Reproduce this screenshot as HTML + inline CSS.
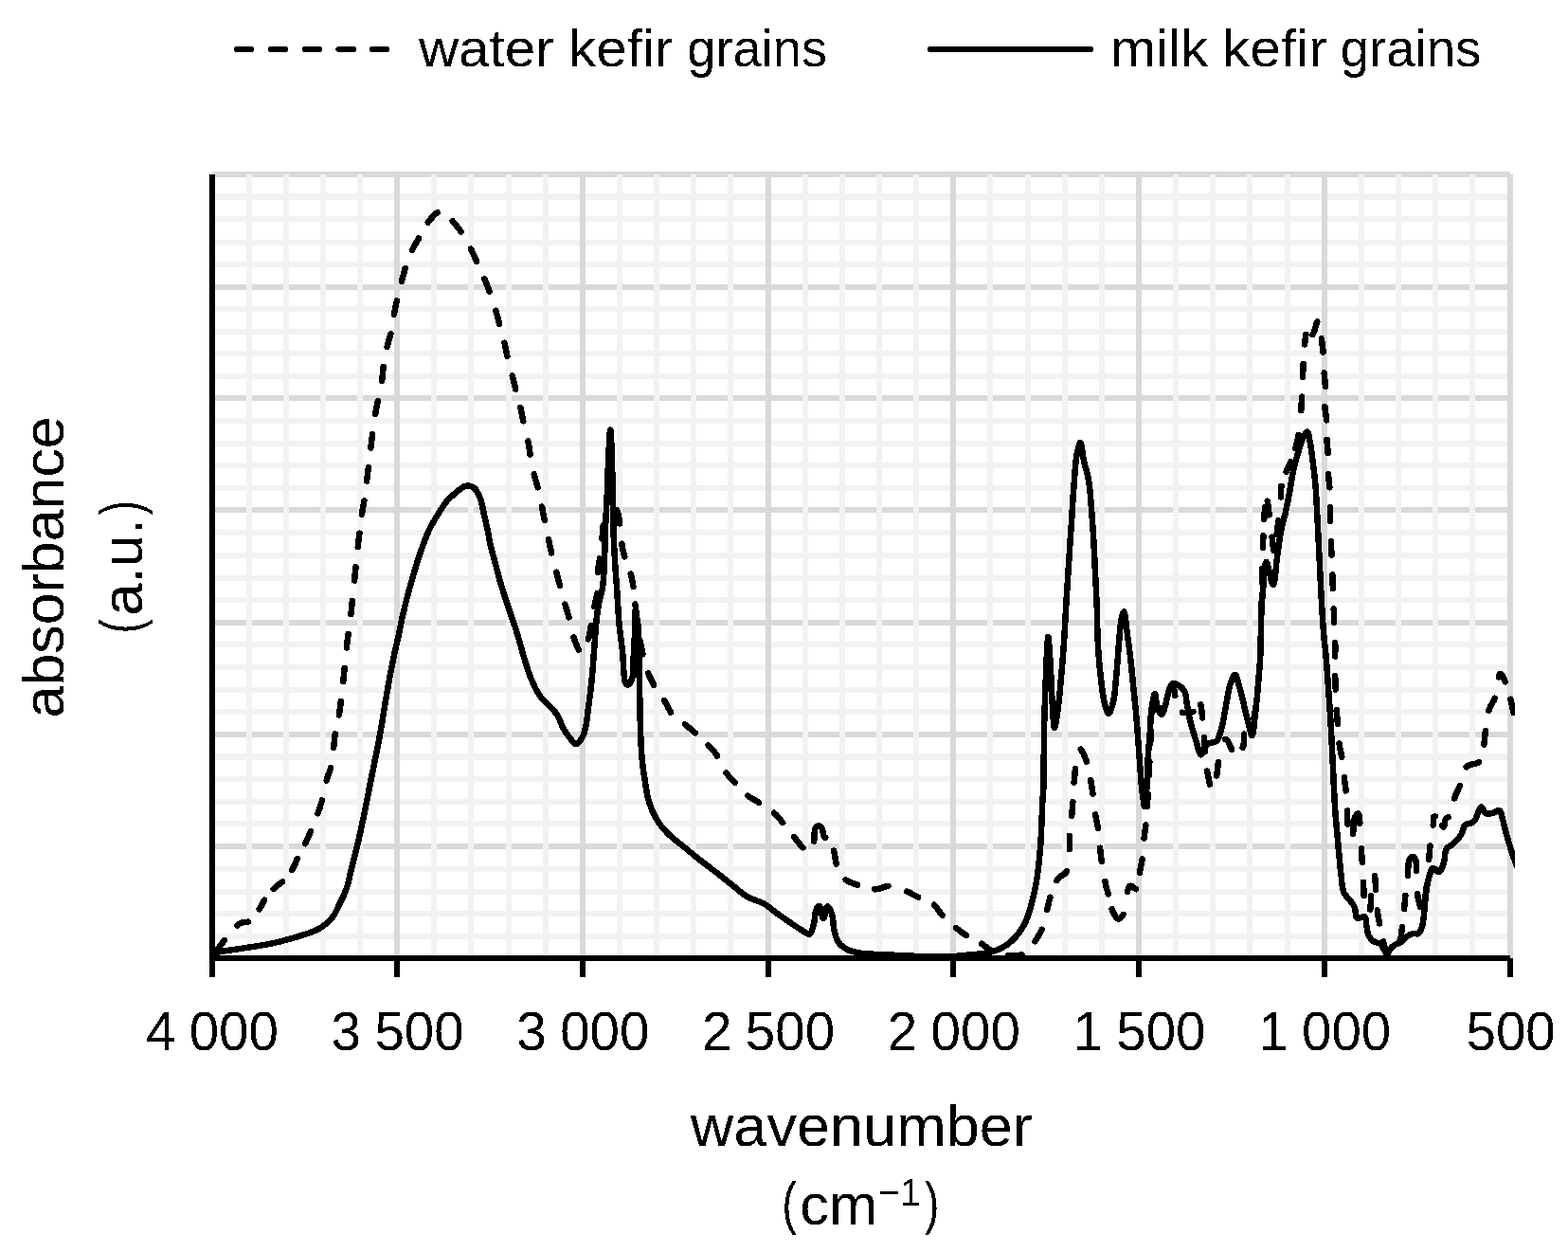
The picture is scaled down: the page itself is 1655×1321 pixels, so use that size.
<!DOCTYPE html>
<html lang="en"><head><meta charset="utf-8"><title>FTIR spectra of kefir grains</title>
<style>html,body{margin:0;padding:0;background:#fff}svg{display:block}text{font-family:"Liberation Sans",sans-serif;fill:#000}</style>
</head><body>
<svg width="1655" height="1321" viewBox="0 0 1655 1321">
<rect width="1655" height="1321" fill="#fff"/>
<defs><clipPath id="c"><rect x="0" y="0" width="1599" height="1321"/></clipPath><filter id="b" x="-5%" y="-20%" width="110%" height="140%" color-interpolation-filters="sRGB"><feComponentTransfer><feFuncA type="discrete" tableValues="0 1"/></feComponentTransfer></filter></defs>
<g stroke="none" shape-rendering="crispEdges">
<path fill="#d9d9d9" d="M224 181H1594V187H224ZM224 300H1594V306H224ZM224 417H1594V423H224ZM224 535H1594V541H224ZM224 654H1594V660H224ZM224 772H1594V778H224ZM224 890H1594V896H224ZM224 1008H1594V1014H224Z"/>
<path fill="#f2f2f2" d="M224 204H1591V211H224ZM224 228H1591V234H224ZM224 253H1591V259H224ZM224 276H1591V282H224ZM224 323H1591V329H224ZM224 347H1591V353H224ZM224 370H1591V376H224ZM224 394H1591V400H224ZM224 441H1591V447H224ZM224 465H1591V471H224ZM224 488H1591V494H224ZM224 512H1591V518H224ZM224 559H1591V565H224ZM224 583H1591V589H224ZM224 607H1591V613H224ZM224 630H1591V636H224ZM224 677H1591V683H224ZM224 701H1591V707H224ZM224 725H1591V731H224ZM224 748H1591V754H224ZM224 795H1591V802H224ZM224 819H1591V825H224ZM224 843H1591V849H224ZM224 866H1591V872H224ZM224 914H1591V920H224ZM224 938H1591V944H224ZM224 961H1591V967H224ZM224 985H1591V991H224Z"/>
<path fill="#f2f2f2" d="M260 184H266V1011H260ZM299 184H305V1011H299ZM338 184H344V1011H338ZM377 184H383V1011H377ZM455 184H461V1011H455ZM494 184H500V1011H494ZM534 184H540V1011H534ZM573 184H579V1011H573ZM651 184H657V1011H651ZM690 184H696V1011H690ZM729 184H735V1011H729ZM768 184H774V1011H768ZM847 184H853V1011H847ZM886 184H892V1011H886ZM925 184H931V1011H925ZM964 184H970V1011H964ZM1042 184H1048V1011H1042ZM1082 184H1088V1011H1082ZM1121 184H1127V1011H1121ZM1160 184H1166V1011H1160ZM1238 184H1244V1011H1238ZM1277 184H1283V1011H1277ZM1316 184H1322V1011H1316ZM1356 184H1362V1011H1356ZM1434 184H1440V1011H1434ZM1473 184H1479V1011H1473ZM1512 184H1518V1011H1512ZM1551 184H1557V1011H1551Z"/>
<path fill="#d9d9d9" d="M220 184H226V1011H220ZM416 184H422V1011H416ZM612 184H618V1011H612ZM808 184H814V1011H808ZM1003 184H1009V1011H1003ZM1199 184H1205V1011H1199ZM1395 184H1401V1011H1395ZM1591 184H1597V1011H1591Z"/>
</g>
<g fill="none" stroke="#000" stroke-width="6.5" stroke-linejoin="round" stroke-linecap="round" clip-path="url(#c)" shape-rendering="crispEdges">
<path d="M228.2 1003.7L228.7 1003.0L229.5 1001.9L230.3 1000.8L231.1 999.7L231.9 998.6L232.8 997.4L233.6 996.3L234.4 995.3L235.2 994.2L236.1 993.0L236.8 992.1M250.3 976.5L251.1 975.9L252.2 975.1L253.4 974.3L254.6 973.8L256.0 973.4L257.4 973.2L258.8 973.1L260.1 973.0L261.5 972.7L262.0 972.6M273.7 959.3L274.2 958.5L274.9 957.4L275.6 956.3L276.1 955.2L276.7 954.2L277.3 952.9L278.0 951.5L278.6 950.4L279.1 949.5M288.7 938.0L289.4 937.3L290.4 936.3L291.3 935.4L292.3 934.6L293.2 933.9L294.4 933.0L295.6 932.3L296.8 931.4L297.7 930.7L298.0 930.5M308.1 918.0L308.6 917.2L309.2 916.1L309.9 914.8L310.6 913.5L311.2 912.1L311.8 910.8L312.4 909.4L312.9 908.0L313.4 906.9L313.8 905.9M322.1 890.2L322.5 889.3L323.1 888.1L323.7 886.8L324.3 885.5L324.9 884.3L325.4 883.1L325.9 881.8L326.4 880.6L327.0 879.4L327.5 878.1L327.9 877.0M335.4 858.2L335.7 857.4L336.2 856.2L336.6 854.9L337.0 853.7L337.5 852.4L337.9 851.0L338.4 849.5L338.8 848.1L339.2 846.9L339.6 845.7L339.9 844.4M344.7 823.6L344.9 822.7L345.3 821.4L345.7 820.2L346.1 819.0L346.5 817.8L347.0 816.4L347.5 815.0L347.9 813.6L348.4 812.2L348.8 810.9L349.1 809.9M352.1 788.9L352.2 788.0L352.4 786.6L352.5 785.3L352.7 784.0L352.8 782.7L352.9 781.4L353.1 780.2L353.2 778.9L353.3 777.6L353.5 776.4L353.6 775.1L353.7 774.4M357.8 754.4L358.0 753.4L358.2 752.0L358.4 750.6L358.6 749.1L358.8 747.7L359.0 746.3L359.2 744.8L359.4 743.4L359.6 742.0L359.7 740.6L359.8 739.9M362.2 719.2L362.3 718.3L362.4 716.9L362.6 715.5L362.8 714.0L362.9 712.6L363.1 711.1L363.2 709.6L363.4 708.1L363.5 706.7L363.7 705.3L363.7 704.9M365.9 683.5L366.0 682.6L366.1 681.1L366.3 679.7L366.5 678.2L366.6 676.8L366.8 675.4L367.0 674.0L367.1 672.7L367.3 671.2L367.5 669.8L367.6 669.1M370.4 648.1L370.5 647.2L370.7 645.7L370.8 644.3L371.0 642.8L371.1 641.4L371.3 639.9L371.5 638.4L371.6 637.1L371.7 635.6L371.9 634.2L371.9 633.8M374.0 612.5L374.1 611.6L374.3 610.1L374.4 608.6L374.6 607.2L374.7 605.8L374.9 604.3L375.0 602.9L375.2 601.4L375.3 600.0L375.4 598.6L375.5 598.1M377.7 577.2L377.8 576.3L378.0 574.8L378.1 573.4L378.3 571.9L378.5 570.5L378.6 569.1L378.8 567.7L379.0 566.3L379.1 564.8L379.3 563.4L379.4 562.7M381.9 542.7L382.1 541.8L382.3 540.5L382.5 539.2L382.7 537.9L382.9 536.6L383.2 535.4L383.4 534.2L383.6 533.0L383.8 531.6L384.1 530.2L384.3 528.8L384.4 528.3M387.0 507.7L387.2 506.7L387.3 505.3L387.5 503.8L387.7 502.4L387.9 500.9L388.1 499.5L388.2 498.0L388.4 496.6L388.6 495.1L388.8 493.6L388.8 493.1M391.3 472.5L391.4 471.6L391.6 470.2L391.8 468.8L391.9 467.5L392.1 466.0L392.3 464.6L392.5 463.1L392.7 461.7L392.9 460.2L393.1 458.8L393.2 458.1M396.1 437.2L396.3 436.2L396.5 434.8L396.7 433.5L397.0 432.2L397.2 430.8L397.5 429.4L397.7 428.2L398.0 427.0L398.3 425.7L398.6 424.3L398.9 423.1M403.2 401.8L403.3 400.9L403.4 399.6L403.6 398.3L403.7 397.0L403.8 395.7L403.9 394.4L404.1 393.1L404.2 391.8L404.3 390.5L404.4 389.2L404.5 387.9L404.6 387.2M408.5 366.2L408.7 365.3L409.1 364.0L409.4 362.6L409.8 361.2L410.2 359.9L410.6 358.5L411.0 357.2L411.4 355.9L411.8 354.5L412.2 353.2L412.4 352.3M415.8 331.7L416.0 330.8L416.3 329.4L416.5 328.1L416.8 326.7L417.1 325.3L417.4 324.0L417.7 322.6L418.0 321.3L418.3 319.9L418.6 318.6L418.9 317.4M423.9 297.0L424.2 296.1L424.5 294.7L424.9 293.3L425.3 291.9L425.6 290.6L426.0 289.2L426.4 287.8L426.7 286.5L427.1 285.1L427.5 283.8L427.7 283.1M435.0 264.0L435.4 263.2L436.0 261.9L436.7 260.7L437.3 259.5L438.0 258.3L438.7 257.1L439.4 255.9L440.0 254.7L440.8 253.5L441.5 252.3L441.9 251.5M451.8 234.7L452.3 233.9L453.2 232.9L454.0 231.8L454.9 230.7L455.9 229.6L456.8 228.6L457.7 227.6L458.7 226.6L459.7 225.7L460.8 224.8L461.7 224.1M477.7 233.2L478.2 233.9L479.0 234.9L479.9 235.9L480.7 237.0L481.5 238.0L482.4 239.0L483.2 240.1L484.1 241.1L484.9 242.2L485.7 243.3L486.6 244.4L486.7 244.6M496.9 262.6L497.4 263.5L498.0 264.8L498.6 266.1L499.2 267.4L499.8 268.6L500.4 269.9L501.0 271.2L501.6 272.5L502.2 273.8L502.8 275.1L503.1 275.7M511.4 294.2L511.8 295.1L512.3 296.5L512.9 297.9L513.4 299.2L513.9 300.6L514.5 302.0L515.0 303.3L515.5 304.7L516.0 306.1L516.5 307.4L516.6 307.7M523.4 327.6L523.6 328.6L524.0 330.0L524.4 331.5L524.8 332.9L525.2 334.4L525.5 335.8L525.9 337.3L526.2 338.7L526.6 340.2L527.0 341.6L527.0 341.9M532.5 361.6L532.7 362.5L533.0 363.9L533.3 365.4L533.6 366.8L533.9 368.2L534.2 369.7L534.4 371.1L534.7 372.6L535.0 374.0L535.3 375.4L535.4 375.7M540.7 396.4L540.9 397.3L541.2 398.6L541.6 399.9L541.9 401.2L542.2 402.5L542.5 403.8L542.9 405.1L543.2 406.4L543.5 407.7L543.9 409.0L544.2 410.3L544.2 410.5M549.3 430.1L549.6 431.0L549.9 432.3L550.1 433.6L550.4 435.0L550.7 436.3L550.9 437.6L551.2 438.9L551.4 440.3L551.7 441.6L552.0 442.9L552.3 444.3M557.4 465.5L557.6 466.4L557.8 467.9L558.1 469.3L558.3 470.8L558.5 472.2L558.7 473.6L558.9 475.1L559.1 476.5L559.4 477.9L559.6 479.4L559.6 479.6M563.7 500.2L563.9 501.2L564.2 502.5L564.6 503.9L565.0 505.3L565.4 506.6L565.8 508.0L566.2 509.3L566.6 510.6L566.9 512.0L567.3 513.3L567.6 514.2M572.0 534.7L572.2 535.5L572.5 536.8L572.7 538.1L573.0 539.4L573.2 540.7L573.5 542.0L573.7 543.3L574.0 544.6L574.2 545.9L574.5 547.2L574.8 548.5L574.8 548.7M579.1 569.2L579.3 570.2L579.6 571.6L579.9 573.1L580.1 574.5L580.4 576.0L580.7 577.4L581.0 578.9L581.4 580.3L581.7 581.7L582.0 583.2L582.0 583.4M587.3 603.7L587.5 604.7L587.9 606.1L588.3 607.6L588.7 609.0L589.0 610.5L589.4 611.9L589.8 613.4L590.2 614.8L590.6 616.3L591.0 617.7L591.0 617.9M596.4 637.6L596.7 638.5L597.0 639.8L597.4 641.0L597.8 642.2L598.1 643.4L598.5 644.6L598.9 645.8L599.2 647.1L599.6 648.5L600.0 649.9L600.3 651.2L600.4 651.4M605.4 672.3L605.7 673.2L606.1 674.5L606.6 675.8L607.0 677.0L607.5 678.2L608.0 679.4L608.6 680.8L609.2 682.1L609.7 683.4L610.3 684.6L610.9 685.7M621.0 674.4L621.2 673.6L621.6 672.3L621.9 671.0L622.1 669.7L622.4 668.4L622.7 667.1L622.9 665.8L623.2 664.4L623.4 663.1L623.6 661.8L623.8 660.5L623.9 660.2M627.3 640.2L627.5 639.3L627.8 638.1L628.0 636.8L628.3 635.5L628.6 634.2L628.9 632.9L629.2 631.6L629.5 630.3L629.8 628.9L630.1 627.6L630.3 626.3L630.4 625.9M630.8 604.0L630.9 603.1L631.1 601.8L631.2 600.5L631.4 599.2L631.6 597.9L631.9 596.6L632.1 595.3L632.3 594.0L632.6 592.7L632.8 591.4L633.0 590.1L633.1 589.5M635.5 568.5L635.6 567.6L635.7 566.3L635.8 565.0L635.9 563.6L636.0 562.3L636.1 561.0L636.2 559.6L636.3 558.3L636.5 557.0L636.6 555.7L636.8 554.4L636.8 554.1M651.3 538.3L651.6 539.2L652.0 540.5L652.4 541.8L652.7 543.1L652.9 544.5L653.2 545.9L653.4 547.3L653.6 548.7L653.8 550.1L654.0 551.5L654.1 552.5M656.3 573.7L656.5 574.7L656.7 576.1L657.0 577.5L657.2 578.9L657.5 580.3L657.8 581.7L658.1 583.0L658.4 584.4L658.7 585.8L659.1 587.1L659.2 587.3M665.7 605.6L666.0 606.5L666.3 607.7L666.6 609.0L666.9 610.3L667.1 611.6L667.4 612.9L667.6 614.2L667.9 615.5L668.1 616.9L668.3 618.2L668.5 619.1M670.4 637.4L670.5 638.4L670.7 639.8L670.9 641.3L671.0 642.6L671.2 644.0L671.4 645.5L671.5 646.9L671.7 648.3L671.9 649.7L672.1 651.2L672.2 651.9M675.6 676.0L675.8 676.9L676.1 678.3L676.3 679.7L676.5 681.0L676.8 682.3L677.0 683.6L677.3 685.0L677.6 686.4L677.9 687.9L678.2 689.3L678.4 690.3M684.2 710.3L684.5 711.2L685.1 712.5L685.7 713.9L686.3 715.2L686.9 716.6L687.6 717.9L688.3 719.2L689.0 720.5L689.7 721.8L690.2 722.9M701.3 739.1L701.7 739.9L702.4 741.1L703.1 742.2L703.7 743.5L704.3 744.7L704.8 745.9L705.4 747.1L706.1 748.3L706.7 749.5L707.4 750.6L708.0 751.5M723.0 764.4L723.8 765.0L724.9 765.9L726.0 766.8L727.1 767.7L728.2 768.6L729.3 769.5L730.4 770.4L731.5 771.4L732.6 772.3L733.6 773.2L733.8 773.3M747.7 786.3L748.3 787.0L749.2 787.9L750.1 788.9L751.1 790.0L752.1 791.1L753.0 792.3L754.0 793.4L754.9 794.6L755.7 795.6L756.4 796.7L757.0 797.6M766.5 815.5L767.1 816.2L767.9 817.3L768.8 818.4L769.6 819.4L770.5 820.4L771.5 821.4L772.4 822.4L773.3 823.4L774.3 824.4L775.2 825.4L775.7 825.9M789.2 839.5L789.9 840.0L791.0 840.8L792.0 841.5L793.1 842.1L794.2 842.8L795.3 843.4L796.4 844.0L797.5 844.7L798.6 845.3L799.7 845.9L800.8 846.6L801.0 846.7M817.0 857.7L817.6 858.3L818.6 859.2L819.5 860.1L820.4 861.1L821.2 862.0L822.0 863.0L822.8 864.0L823.7 865.0L824.5 866.0L825.3 867.0L826.1 868.0L826.2 868.2M838.1 883.2L838.7 883.9L839.5 884.9L840.4 886.0L841.3 887.1L842.2 888.2L843.1 889.4L844.0 890.5L844.9 891.5L845.8 892.5L846.7 893.4L847.6 894.2M859.2 887.6L859.3 886.7L859.5 885.3L859.6 884.0L859.6 882.6L859.7 881.3L859.7 879.9L859.7 878.6L859.8 877.2L859.9 875.9L860.2 874.6L860.7 873.4L861.5 872.6L862.4 872.0L863.3 871.6L864.1 871.5L864.9 871.6L865.7 871.9L866.4 872.4L867.1 873.2L867.7 874.4L868.1 875.6L868.4 877.0L868.7 878.4L868.9 879.9L869.2 881.2L869.6 882.4L870.1 883.5L871.0 883.7L871.2 883.6M880.1 897.6L880.3 898.6L880.6 900.0L880.9 901.3L881.1 902.5L881.3 903.8L881.5 905.1L881.7 906.4L881.9 907.7L882.2 909.2L882.5 910.6L882.7 911.6M892.7 928.3L893.5 928.8L894.8 929.6L896.0 930.2L897.2 930.8L898.4 931.3L899.7 931.8L900.9 932.3L902.2 932.7L903.5 933.2L904.8 933.6L905.2 933.7M923.3 938.3L924.2 938.3L925.6 938.1L927.0 937.9L928.4 937.5L929.8 937.1L931.2 936.6L932.6 936.2L934.0 935.7L935.5 935.3L936.9 935.0L937.3 934.9M957.1 940.5L958.0 940.9L959.3 941.5L960.5 942.1L961.7 942.7L962.8 943.3L964.0 943.9L965.1 944.5L966.3 945.1L967.6 945.8L968.9 946.4L969.1 946.5M985.9 954.8L986.6 955.4L987.5 956.4L988.3 957.5L989.2 958.6L990.0 959.7L990.9 960.9L991.7 962.1L992.5 963.3L993.4 964.4L994.3 965.5L994.7 965.9M1009.3 979.1L1010.0 979.7L1011.1 980.6L1012.2 981.4L1013.2 982.3L1014.3 983.1L1015.4 983.9L1016.5 984.7L1017.6 985.4L1018.7 986.2L1019.8 986.9L1020.0 987.1M1036.0 995.7L1036.7 996.2L1037.8 996.9L1038.8 997.6L1039.8 998.4L1040.8 999.2L1041.8 1000.0L1042.9 1000.8L1043.9 1001.6L1045.0 1002.4L1046.2 1003.2L1046.8 1003.6M1064.1 1008.3L1065.0 1008.4L1066.5 1008.4L1067.9 1008.4L1069.4 1008.4L1070.8 1008.4L1072.1 1008.3L1073.5 1008.2L1074.9 1008.0L1076.4 1007.8L1077.7 1007.5L1078.4 1007.3M1092.4 993.2L1093.0 992.4L1093.7 991.3L1094.5 990.1L1095.2 988.9L1095.9 987.8L1096.6 986.6L1097.3 985.4L1098.0 984.2L1098.6 982.9L1099.2 981.7L1099.7 980.7M1105.2 960.1L1105.4 959.1L1105.7 957.9L1106.0 956.6L1106.3 955.4L1106.5 954.1L1106.8 952.9L1107.1 951.5L1107.5 950.1L1107.8 948.6L1108.2 947.2L1108.4 946.7M1115.5 929.0L1116.0 928.3L1116.7 927.2L1117.6 926.3L1118.5 925.5L1119.5 924.7L1120.5 924.0L1121.5 923.4L1122.8 922.5L1123.9 921.7L1124.8 920.9L1125.5 919.9L1125.9 919.2M1129.0 896.2L1129.1 895.2L1129.1 893.8L1129.1 892.3L1129.1 890.9L1129.0 889.4L1129.0 888.0L1129.0 886.5L1128.9 885.0L1128.9 883.6L1128.9 882.1L1128.9 881.9M1131.2 860.7L1131.3 859.8L1131.4 858.3L1131.5 856.8L1131.7 855.4L1131.8 853.9L1131.9 852.5L1132.0 851.0L1132.1 849.6L1132.2 848.1L1132.3 846.7L1132.4 846.2M1133.6 825.7L1133.7 824.8L1133.8 823.5L1133.9 822.2L1134.0 820.9L1134.1 819.6L1134.3 818.3L1134.4 817.0L1134.5 815.6L1134.6 814.3L1134.8 813.0L1134.9 811.7L1135.0 811.2M1140.8 790.5L1141.3 791.2L1142.0 792.3L1142.6 793.5L1143.3 794.8L1143.9 796.1L1144.5 797.4L1145.0 798.7L1145.6 800.0L1146.1 801.3L1146.6 802.5L1147.0 803.6M1151.2 823.1L1151.3 824.0L1151.6 825.4L1151.8 826.7L1152.0 828.1L1152.2 829.5L1152.5 830.9L1152.7 832.4L1152.9 833.8L1153.1 835.2L1153.3 836.6L1153.5 837.5M1156.1 859.4L1156.3 860.3L1156.5 861.6L1156.8 862.9L1157.0 864.2L1157.3 865.5L1157.6 866.8L1157.8 868.2L1158.1 869.5L1158.4 870.8L1158.6 872.1L1158.9 873.5L1158.9 873.7M1161.1 894.7L1161.2 895.7L1161.4 897.2L1161.5 898.6L1161.7 900.1L1161.9 901.5L1162.1 903.0L1162.2 904.4L1162.4 905.8L1162.6 907.3L1162.8 908.7L1162.9 909.0M1166.3 929.9L1166.5 930.8L1166.8 932.2L1167.1 933.5L1167.4 934.7L1167.7 936.0L1168.0 937.2L1168.4 938.5L1168.7 939.8L1169.1 941.3L1169.5 942.7L1169.7 943.4M1173.6 959.2L1173.8 960.1L1174.4 961.4L1175.0 962.7L1175.6 963.9L1176.3 965.2L1177.0 966.4L1177.8 967.4L1178.6 968.4L1179.6 969.3L1180.6 969.6L1181.7 969.3L1182.8 968.4L1183.7 967.5L1184.5 966.4L1185.2 965.4L1185.5 964.9M1189.9 940.9L1190.2 940.0L1190.6 938.6L1191.0 937.4L1191.5 936.3L1192.3 935.2L1193.2 934.7L1194.4 935.0L1195.5 935.7L1196.5 936.4L1197.5 937.2L1198.5 937.9L1199.0 938.2M1203.0 920.8L1203.1 919.9L1203.4 918.5L1203.6 917.2L1203.9 915.8L1204.2 914.5L1204.4 913.2L1204.7 911.9L1204.9 910.6L1205.2 909.3L1205.4 908.0L1205.6 906.6L1205.7 906.4M1207.6 884.5L1207.7 883.5L1207.9 882.1L1208.0 880.7L1208.2 879.3L1208.4 877.9L1208.6 876.5L1208.8 875.1L1209.0 873.6L1209.2 872.2L1209.4 870.9L1209.4 870.5M1210.9 851.3L1210.9 850.4L1211.0 848.9L1211.1 847.5L1211.2 846.0L1211.2 844.5L1211.3 843.0L1211.4 841.6L1211.5 840.2L1211.6 838.8L1211.6 837.4M1212.6 817.9L1212.7 817.0L1212.7 815.5L1212.8 814.0L1212.9 812.5L1212.9 811.1L1213.0 809.6L1213.1 808.1L1213.2 806.6L1213.2 805.2L1213.3 803.9M1214.2 784.6L1214.2 783.6L1214.3 782.1L1214.4 780.6L1214.4 779.1L1214.5 777.6L1214.6 776.2L1214.6 774.7L1214.7 773.2L1214.8 771.8L1214.8 770.6M1216.4 751.3L1216.5 750.4L1216.6 748.9L1216.7 747.4L1216.9 746.0L1217.0 744.5L1217.2 743.1L1217.3 741.7L1217.5 740.3L1217.7 738.9L1217.9 737.5M1223.6 746.8L1223.9 747.7L1224.3 749.0L1224.8 750.3L1225.4 751.6L1226.5 751.8L1227.4 750.7L1228.0 749.4L1228.5 748.2L1229.0 746.8L1229.4 745.5L1229.6 745.1M1236.1 726.7L1236.4 725.9L1237.1 724.7L1238.2 724.1L1238.8 725.3L1239.2 726.7L1239.4 728.2L1239.6 729.6L1239.8 731.0L1240.0 732.5L1240.1 733.9L1240.2 734.2M1247.8 751.7L1248.6 751.9L1249.9 752.1L1251.2 752.2L1252.5 752.2L1253.8 752.2L1255.1 752.0L1256.5 751.8L1257.7 751.4L1259.0 751.0L1259.3 750.9M1267.2 743.2L1267.4 744.1L1267.7 745.4L1267.9 746.7L1268.1 748.1L1268.3 749.6L1268.4 750.9L1268.6 752.3L1268.8 753.7L1268.9 755.1L1269.1 756.6L1269.2 757.5M1271.0 778.2L1271.1 779.2L1271.2 780.6L1271.2 782.1L1271.3 783.6L1271.4 785.1L1271.5 786.5L1271.6 788.0L1271.7 789.5L1271.8 791.0L1271.9 792.4L1271.9 792.7M1274.1 813.5L1274.3 814.4L1274.5 815.8L1274.8 817.3L1275.1 818.7L1275.3 820.0L1275.6 821.4L1275.9 822.7L1276.2 824.2L1276.5 825.6L1276.8 826.9L1277.0 827.6M1284.1 818.5L1284.3 817.5L1284.5 816.1L1284.7 814.6L1284.8 813.3L1285.0 812.0L1285.1 810.7L1285.3 809.5L1285.4 808.2L1285.5 806.9L1285.7 805.6L1285.8 804.3L1285.9 804.0M1293.1 780.2L1293.9 780.2L1295.0 780.7L1295.8 781.7L1296.5 782.9L1297.1 784.1L1297.6 785.4L1298.2 786.7L1298.7 788.1L1299.3 789.4L1299.9 790.5L1300.0 790.7M1311.6 788.9L1312.0 788.0L1312.4 786.6L1312.6 785.3L1312.8 783.9L1312.8 782.5L1312.8 781.0L1312.8 779.5L1312.9 778.1L1312.9 776.7L1313.0 775.3L1313.1 774.7M1323.4 758.4L1323.5 757.5L1323.8 756.3L1324.0 755.0L1324.3 753.6L1324.5 752.2L1324.7 750.8L1324.9 749.4L1325.2 748.0L1325.3 746.6L1325.5 745.2L1325.7 744.3M1327.9 722.7L1328.0 721.7L1328.1 720.3L1328.2 718.8L1328.4 717.4L1328.5 715.9L1328.6 714.4L1328.7 713.0L1328.8 711.5L1328.9 710.0L1329.0 708.5L1329.0 708.3M1330.1 686.7L1330.2 685.7L1330.2 684.3L1330.3 682.9L1330.3 681.5L1330.3 680.0L1330.4 678.6L1330.4 677.1L1330.4 675.7L1330.5 674.2L1330.5 672.8L1330.5 672.3M1330.9 650.8L1330.9 649.8L1330.9 648.4L1331.0 646.9L1331.0 645.5L1331.0 644.0L1331.1 642.5L1331.1 641.0L1331.1 639.5L1331.2 638.1L1331.2 636.6L1331.2 636.3M1331.8 614.7L1331.8 613.7L1331.9 612.2L1331.9 610.7L1332.0 609.2L1332.0 607.8L1332.0 606.3L1332.1 604.9L1332.1 603.4L1332.2 601.9L1332.2 600.5L1332.2 600.2M1332.9 577.8L1333.0 576.8L1333.0 575.5L1333.1 574.1L1333.1 572.8L1333.2 571.4L1333.2 570.0L1333.3 568.6L1333.3 567.2L1333.4 565.9L1333.4 565.2M1334.3 547.8L1334.4 546.9L1334.5 545.4L1334.5 544.0L1334.6 542.6L1334.7 541.2L1334.8 539.7L1334.9 538.3L1335.0 536.9L1335.0 535.4L1335.1 535.2M1337.7 528.7L1337.9 529.7L1338.1 531.1L1338.3 532.6L1338.4 534.0L1338.6 535.4L1338.8 536.8L1339.0 538.3L1339.2 539.7L1339.3 541.2L1339.5 542.6L1339.6 543.3M1342.6 566.7L1342.7 567.6L1342.9 569.1L1343.1 570.4L1343.2 571.7L1343.4 573.1L1343.6 574.6L1343.7 576.0L1343.9 577.4L1344.0 578.8L1344.2 580.1L1344.4 581.2M1347.6 563.7L1347.7 562.8L1347.8 561.4L1348.0 560.0L1348.2 558.7L1348.3 557.4L1348.5 556.1L1348.7 554.6L1348.9 553.2L1349.1 551.8L1349.3 550.4L1349.4 549.3M1352.0 524.4L1352.0 523.5L1352.0 522.1L1352.0 520.8L1352.0 519.4L1352.0 518.1L1352.1 516.8L1352.2 515.5L1352.3 514.2L1352.5 513.0L1352.5 512.8M1357.6 497.8L1358.0 496.9L1358.5 495.6L1359.2 494.2L1359.8 492.9L1360.3 491.7L1360.9 490.4L1361.5 489.1L1362.1 487.9L1362.4 487.2M1367.4 473.3L1367.6 472.5L1368.0 471.1L1368.3 469.8L1368.6 468.5L1368.9 467.1L1369.2 465.8L1369.5 464.5L1369.8 463.1L1370.1 461.8L1370.4 460.5L1370.6 459.2M1373.2 433.2L1373.3 432.2L1373.4 430.7L1373.5 429.3L1373.6 427.8L1373.7 426.4L1373.8 424.9L1373.9 423.5L1374.0 422.0L1374.0 420.6L1374.1 419.1L1374.2 418.7M1375.0 397.8L1375.1 396.8L1375.1 395.3L1375.2 393.9L1375.2 392.5L1375.3 391.0L1375.4 389.6L1375.4 388.1L1375.5 386.6L1375.6 385.2L1375.6 384.0M1377.0 363.4L1377.1 362.5L1377.3 361.1L1377.5 359.8L1377.6 358.3L1377.8 356.9L1378.0 355.5L1378.2 354.2L1378.4 353.0M1385.4 353.1L1385.7 352.5L1386.3 351.4L1386.8 350.2L1387.3 348.9L1387.7 347.5L1388.1 346.2L1388.5 344.9L1388.9 343.6L1389.3 342.3L1389.8 340.9L1390.2 339.7L1390.3 339.4M1394.8 357.3L1395.0 358.3L1395.2 359.7L1395.4 361.2L1395.6 362.6L1395.7 364.1L1395.9 365.5L1396.1 367.0L1396.3 368.4L1396.4 369.9L1396.6 371.3L1396.6 371.6M1397.7 393.4L1397.7 394.4L1397.8 395.9L1398.0 397.3L1398.1 398.8L1398.3 400.2L1398.4 401.7L1398.6 403.1L1398.7 404.6L1398.8 406.0L1398.9 407.4L1398.9 407.9M1398.4 429.2L1398.5 430.0L1398.6 431.4L1398.8 432.7L1398.9 434.1L1399.1 435.5L1399.3 436.8L1399.5 438.2L1399.7 439.5L1399.9 440.9L1400.1 442.3L1400.2 443.4M1400.5 463.9L1400.5 464.9L1400.6 466.3L1400.7 467.8L1400.9 469.2L1401.0 470.7L1401.2 472.2L1401.3 473.6L1401.4 475.1L1401.6 476.5L1401.7 478.0L1401.7 478.2M1402.0 499.9L1402.0 500.8L1402.1 502.1L1402.3 503.4L1402.4 504.6L1402.5 505.9L1402.7 507.2L1402.8 508.5L1403.0 509.8L1403.1 511.1L1403.2 512.4L1403.3 513.8L1403.4 514.3M1404.1 535.3L1404.1 536.3L1404.1 537.6L1404.1 538.9L1404.1 540.3L1404.1 541.8L1404.1 543.2L1404.1 544.6L1404.1 546.0L1404.1 547.4L1404.1 548.9L1404.1 549.8M1404.8 571.2L1404.8 572.1L1404.9 573.5L1405.0 574.8L1405.0 576.2L1405.1 577.5L1405.2 578.8L1405.2 580.1L1405.3 581.4L1405.4 582.7L1405.5 584.0L1405.5 585.4L1405.5 585.6M1406.3 606.4L1406.3 607.4L1406.3 608.8L1406.4 610.1L1406.5 611.5L1406.5 612.8L1406.6 614.1L1406.6 615.4L1406.7 616.7L1406.8 618.0L1406.8 619.3L1406.9 620.7L1406.9 621.1M1407.7 642.5L1407.7 643.4L1407.8 644.8L1407.8 646.1L1407.8 647.4L1407.8 648.8L1407.8 650.1L1407.8 651.4L1407.8 652.7L1407.9 654.0L1407.9 655.3L1407.9 656.7L1407.9 656.9M1409.2 678.1L1409.2 679.1L1409.3 680.5L1409.3 681.9L1409.3 683.4L1409.3 684.8L1409.3 686.2L1409.3 687.6L1409.2 689.0L1409.2 690.4L1409.2 691.8L1409.2 692.6M1409.2 713.2L1409.2 714.1L1409.3 715.4L1409.3 716.8L1409.4 718.1L1409.4 719.4L1409.5 720.7L1409.5 722.0L1409.6 723.3L1409.7 724.6L1409.7 726.0L1409.8 727.3L1409.8 727.5M1410.7 749.3L1410.7 750.3L1410.8 751.7L1410.9 753.0L1411.0 754.3L1411.2 755.7L1411.3 757.0L1411.4 758.3L1411.5 759.6L1411.7 760.9L1411.8 762.2L1411.9 763.5L1411.9 764.0M1413.5 784.3L1413.7 785.2L1413.9 786.5L1414.1 787.9L1414.3 789.2L1414.6 790.5L1414.8 791.8L1415.1 793.1L1415.4 794.4L1415.6 795.8L1415.9 797.1L1416.1 798.4L1416.2 798.6M1418.8 820.1L1418.9 821.0L1419.1 822.4L1419.2 823.8L1419.4 825.2L1419.6 826.6L1419.8 828.0L1420.0 829.3L1420.2 830.7L1420.3 832.1L1420.5 833.5L1420.6 834.4M1422.0 855.5L1422.1 856.5L1422.1 857.9L1422.1 859.2L1422.2 860.5L1422.2 861.8L1422.2 863.2L1422.2 864.7L1422.3 866.2L1422.3 867.6L1422.4 869.1L1422.5 869.7M1428.1 879.6L1428.2 878.8L1428.3 877.5L1428.4 876.1L1428.4 874.8L1428.4 873.4L1428.4 872.1L1428.5 870.7L1428.5 869.4L1428.6 868.0L1428.8 866.7L1429.0 865.4L1429.4 864.2L1429.9 863.0L1430.4 861.9L1431.1 860.8L1431.8 859.7L1432.6 858.7L1433.6 858.2L1434.3 859.3L1434.6 860.6L1434.8 862.0L1435.0 863.3L1435.1 864.7L1435.2 866.1L1435.3 867.5L1435.3 868.8M1436.9 895.4L1436.9 896.4L1437.0 897.8L1437.1 899.3L1437.2 900.7L1437.3 902.2L1437.4 903.7L1437.5 905.1L1437.6 906.6L1437.7 908.0L1437.8 909.5L1437.8 909.7M1439.0 930.7L1439.0 931.6L1439.1 932.9L1439.1 934.2L1439.2 935.5L1439.2 936.8L1439.3 938.2L1439.3 939.5L1439.4 940.8L1439.4 942.1L1439.5 943.5L1439.6 944.8L1439.7 945.2M1446.2 959.8L1446.4 958.9L1446.5 957.7L1446.7 956.4L1446.7 955.0L1446.8 953.5L1446.8 952.3L1446.8 950.9L1446.9 949.6L1446.9 948.2L1446.9 946.9L1446.9 945.5L1447.0 945.3M1451.1 924.4L1451.2 925.3L1451.4 926.8L1451.5 928.1L1451.6 929.5L1451.7 930.8L1451.8 932.1L1451.8 933.5L1451.9 934.9L1452.0 936.3L1452.0 937.7L1452.1 938.8M1453.8 960.5L1453.9 961.5L1454.1 962.9L1454.3 964.3L1454.5 965.6L1454.7 967.0L1454.9 968.4L1455.2 969.7L1455.4 971.1L1455.6 972.4L1455.9 973.8L1456.0 974.4M1460.1 993.4L1460.3 994.2L1460.6 995.5L1460.9 996.9L1461.2 998.3L1461.5 999.7L1461.8 1001.1L1462.1 1002.4L1462.5 1003.7L1462.9 1004.9L1463.7 1005.8L1464.6 1005.8M1477.5 992.1L1477.8 991.3L1478.3 990.0L1478.6 988.6L1478.9 987.3L1479.0 986.0L1479.2 984.6L1479.4 983.3L1479.5 981.9L1479.7 980.5L1479.8 979.1L1480.0 978.2M1482.1 959.2L1482.2 958.2L1482.3 956.7L1482.5 955.3L1482.6 953.8L1482.7 952.3L1482.9 950.9L1483.0 949.4L1483.1 948.0L1483.2 946.5L1483.4 945.1L1483.4 944.8M1485.8 923.7L1485.9 922.8L1486.0 921.4L1486.1 920.0L1486.1 918.6L1486.2 917.2L1486.3 915.7L1486.4 914.3L1486.5 913.0L1486.6 911.7L1486.8 910.3L1487.1 909.0L1487.4 907.7L1488.0 906.4L1488.8 905.4L1489.6 904.6L1490.5 904.1L1491.3 904.0L1492.1 904.4L1492.9 905.1L1493.6 906.1L1494.2 907.3L1494.5 908.6L1494.7 909.8L1494.8 911.2L1494.9 912.5L1494.9 913.9L1494.9 915.2L1494.9 916.7L1494.9 918.1L1494.9 919.0M1496.0 943.0L1496.2 943.9L1496.4 945.2L1496.6 946.6L1496.9 948.0L1497.2 949.3L1497.5 950.7L1497.8 952.1L1498.2 953.4L1498.5 954.7L1498.9 956.0L1499.2 957.2M1504.2 947.5L1504.3 946.6L1504.5 945.2L1504.7 943.8L1504.8 942.4L1505.0 940.9L1505.2 939.5L1505.4 938.1L1505.6 936.6L1505.8 935.2L1506.0 933.7L1506.1 933.0M1508.2 906.8L1508.3 905.9L1508.4 904.6L1508.5 903.3L1508.6 902.0L1508.7 900.7L1508.9 899.4L1509.0 898.1L1509.1 896.8L1509.2 895.5L1509.4 894.2L1509.5 892.9L1509.6 892.3M1512.7 870.5L1512.8 869.6L1512.8 868.1L1512.8 866.7L1512.8 865.3L1512.8 864.1L1512.9 862.8L1513.5 861.7L1514.5 861.5L1514.9 861.6M1522.3 870.8L1522.6 871.5L1523.4 872.5L1524.2 871.7L1524.5 870.5L1524.7 869.1L1524.9 867.8L1525.1 866.6L1525.5 865.2L1525.9 864.0L1526.7 863.0L1527.8 862.5L1528.7 862.2M1535.2 842.5L1535.4 841.6L1535.8 840.3L1536.3 839.1L1536.8 837.8L1537.3 836.6L1537.9 835.5L1538.5 834.3L1539.0 833.1L1539.6 832.0L1540.2 830.8L1540.7 829.6L1540.9 829.2M1547.7 809.4L1548.3 808.7L1549.4 807.9L1550.7 807.3L1552.0 806.9L1553.3 806.6L1554.6 806.3L1555.9 806.0L1557.1 805.8L1558.4 805.4L1559.6 805.0L1560.9 804.3M1566.3 785.5L1566.4 784.6L1566.6 783.2L1566.8 781.9L1567.0 780.5L1567.1 779.2L1567.2 777.9L1567.3 776.5L1567.4 775.2L1567.6 773.8L1567.7 772.5L1567.8 771.1M1571.4 749.9L1571.7 749.0L1572.1 747.8L1572.6 746.6L1573.2 745.3L1573.9 744.0L1574.6 742.7L1575.3 741.4L1576.0 740.2L1576.7 738.9L1577.2 737.7L1577.6 736.7M1581.9 714.5L1582.1 713.6L1582.5 712.3L1583.3 711.1L1584.3 711.3L1585.1 712.3L1585.9 713.4L1586.5 714.6L1587.1 715.8L1587.7 717.0L1588.2 718.2L1588.7 719.4M1594.3 737.7L1594.5 738.6L1594.9 740.0L1595.2 741.4L1595.5 742.8L1595.8 744.2L1596.1 745.5L1596.4 746.9L1596.7 748.3L1597.0 749.6L1597.2 751.0L1597.4 751.9"/>
<polyline points="225.0,1006.0 225.3,1005.9 226.0,1005.7 227.1,1005.4 228.4,1005.1 229.9,1004.7 231.4,1004.4 235.0,1003.7 239.5,1003.0 244.6,1002.3 250.0,1001.5 255.4,1000.7 260.4,999.9 265.0,999.2 269.6,998.5 274.1,997.8 278.7,997.0 283.2,996.2 287.7,995.3 292.3,994.2 297.0,993.1 301.7,991.8 306.3,990.6 310.7,989.3 314.9,988.0 318.2,987.0 321.5,986.0 324.7,984.9 327.7,983.9 330.5,982.8 333.1,981.7 334.8,980.9 336.4,980.0 337.9,979.2 339.4,978.3 340.8,977.3 342.2,976.2 343.8,974.9 345.4,973.6 347.0,972.1 348.5,970.6 349.9,968.9 351.3,967.2 352.7,965.2 354.0,963.0 355.2,960.7 356.3,958.3 357.4,955.9 358.6,953.5 359.9,950.9 361.1,948.3 362.4,945.6 363.6,942.9 364.7,940.1 365.8,937.2 366.9,933.8 367.8,930.3 368.7,926.7 369.5,923.0 370.4,919.3 371.3,915.4 372.5,910.8 373.7,905.9 374.9,901.0 376.2,896.0 377.4,891.1 378.5,886.3 379.5,882.0 380.4,877.7 381.3,873.6 382.2,869.4 383.1,865.2 384.0,860.9 384.9,856.4 385.8,851.9 386.7,847.3 387.6,842.7 388.5,838.2 389.4,833.6 390.3,829.1 391.2,824.6 392.1,820.1 393.0,815.6 394.0,811.0 394.9,806.3 395.9,801.1 397.0,795.7 398.1,790.3 399.2,784.8 400.3,779.2 401.3,773.6 402.4,767.4 403.5,761.0 404.5,754.5 405.6,748.0 406.6,741.6 407.7,735.3 408.7,729.4 409.8,723.6 410.8,717.7 411.8,712.0 412.9,706.4 414.0,700.8 415.0,695.8 416.1,690.8 417.2,685.8 418.3,681.0 419.4,676.3 420.4,671.7 421.2,667.9 421.9,664.3 422.6,660.7 423.3,657.2 424.1,653.6 424.9,649.9 425.9,645.8 426.9,641.6 427.9,637.4 429.0,633.1 430.1,628.8 431.3,624.5 432.6,619.8 433.9,615.0 435.3,610.1 436.7,605.3 438.1,600.7 439.4,596.3 440.4,593.0 441.4,589.9 442.4,586.8 443.4,583.9 444.4,581.0 445.4,578.1 446.4,575.4 447.4,572.6 448.4,569.9 449.5,567.3 450.5,564.8 451.5,562.4 452.3,560.6 453.1,559.0 453.8,557.4 454.6,555.9 455.4,554.3 456.3,552.7 457.4,550.7 458.6,548.7 459.8,546.7 461.1,544.6 462.3,542.6 463.6,540.6 464.8,538.7 466.0,536.8 467.2,534.9 468.4,533.1 469.6,531.3 470.9,529.7 472.1,528.3 473.2,527.1 474.4,525.9 475.6,524.7 476.9,523.5 478.1,522.4 479.3,521.3 480.5,520.2 481.8,519.1 483.0,518.1 484.2,517.2 485.4,516.3 486.3,515.7 487.1,515.1 487.9,514.6 488.7,514.1 489.5,513.6 490.3,513.3 491.1,513.1 491.9,512.9 492.7,512.7 493.5,512.7 494.3,512.6 495.1,512.7 495.9,512.8 496.8,513.0 497.6,513.2 498.4,513.6 499.2,514.0 500.0,514.5 500.9,515.3 501.8,516.3 502.6,517.5 503.4,518.7 504.1,520.0 504.8,521.2 505.4,522.3 505.9,523.5 506.4,524.6 506.9,525.8 507.4,527.1 507.8,528.5 508.4,530.6 508.9,532.9 509.4,535.4 509.9,537.9 510.4,540.5 510.9,543.0 511.5,545.6 512.1,548.1 512.7,550.7 513.3,553.4 513.9,556.0 514.5,558.7 515.1,561.7 515.7,564.7 516.2,567.7 516.8,570.8 517.4,573.9 518.1,576.9 518.8,579.9 519.6,583.0 520.5,586.0 521.3,589.0 522.2,592.1 523.0,595.1 523.8,598.1 524.5,601.0 525.3,604.0 526.1,607.0 526.9,610.1 527.8,613.3 529.0,617.4 530.4,621.8 531.8,626.3 533.3,630.8 534.8,635.4 536.3,639.9 537.9,644.6 539.5,649.3 541.1,654.0 542.7,658.8 544.3,663.5 545.8,668.1 547.1,672.4 548.3,676.7 549.5,681.0 550.6,685.2 551.8,689.4 553.0,693.5 554.2,697.3 555.3,701.0 556.5,704.7 557.7,708.4 558.9,711.9 560.3,715.4 561.7,718.6 563.1,721.8 564.5,724.9 566.1,728.0 567.7,730.8 569.4,733.5 571.0,735.6 572.7,737.6 574.5,739.5 576.3,741.2 578.0,743.0 579.7,744.8 581.2,746.4 582.7,748.0 584.2,749.5 585.6,751.1 587.0,752.7 588.2,754.5 589.4,756.6 590.4,758.8 591.3,761.1 592.2,763.4 593.1,765.7 594.2,767.8 595.3,769.8 596.5,771.7 597.7,773.6 599.0,775.4 600.2,777.1 601.5,778.7 602.6,780.0 603.6,781.5 604.7,782.8 605.8,784.0 606.9,784.7 608.0,785.0 609.2,784.6 610.4,783.7 611.6,782.4 612.8,780.8 613.9,779.1 614.8,777.5 615.7,775.7 616.4,773.9 617.0,771.9 617.5,769.8 618.0,767.6 618.5,765.4 619.0,762.6 619.5,759.6 619.8,756.5 620.2,753.4 620.5,750.3 620.9,747.2 621.3,744.2 621.7,741.2 622.1,738.3 622.5,735.3 622.9,732.2 623.3,729.0 623.7,725.2 624.2,721.2 624.6,717.1 625.0,713.0 625.3,708.9 625.7,704.8 626.0,700.8 626.3,696.7 626.6,692.7 626.9,688.7 627.2,684.6 627.5,680.6 627.8,676.5 628.1,672.4 628.4,668.2 628.7,664.1 629.0,660.1 629.4,656.3 629.7,653.1 630.1,650.1 630.4,647.1 630.8,644.1 631.3,641.2 631.8,638.2 632.4,635.2 633.2,632.3 633.9,629.4 634.7,626.4 635.4,623.3 636.0,620.0 636.6,615.5 637.0,610.6 637.3,605.5 637.5,600.4 637.8,595.1 638.0,590.0 638.2,584.7 638.4,579.4 638.5,574.0 638.7,568.7 638.8,563.3 639.0,558.0 639.2,552.8 639.5,547.7 639.7,542.6 640.0,537.5 640.3,532.3 640.5,527.0 640.8,521.0 641.0,514.8 641.2,508.5 641.5,502.2 641.7,496.0 642.0,490.0 642.2,484.6 642.5,479.0 642.7,473.4 643.0,468.3 643.2,463.7 643.5,460.0 643.6,458.5 643.7,457.0 643.8,455.6 644.0,454.5 644.1,453.8 644.2,453.5 644.3,453.9 644.5,454.9 644.6,456.4 644.7,458.2 644.9,460.1 645.0,462.0 645.2,465.7 645.4,470.0 645.5,474.7 645.7,479.8 645.8,484.9 646.0,490.0 646.2,495.9 646.4,502.1 646.5,508.4 646.7,514.7 646.9,521.0 647.0,527.0 647.1,532.3 647.2,537.6 647.2,542.8 647.3,547.9 647.4,553.0 647.5,558.0 647.6,562.7 647.8,567.3 648.0,571.9 648.2,576.4 648.4,581.1 648.7,586.0 649.0,591.8 649.4,597.9 649.9,604.1 650.3,610.3 650.8,616.5 651.2,622.7 651.6,628.8 651.9,634.9 652.3,641.1 652.7,647.2 653.1,653.1 653.6,659.0 654.1,664.3 654.8,669.5 655.5,674.7 656.1,679.7 656.7,684.6 657.2,689.3 657.5,693.1 657.7,696.7 657.9,700.3 658.0,703.8 658.2,707.0 658.5,710.0 658.7,712.1 658.9,714.1 659.1,716.0 659.3,717.8 659.7,719.3 660.2,720.5 660.5,721.0 660.9,721.5 661.4,721.9 661.8,722.2 662.3,722.4 662.7,722.4 663.4,722.1 664.1,721.5 664.9,720.6 665.6,719.5 666.3,718.2 666.9,716.9 667.7,713.9 668.1,710.2 668.3,705.9 668.4,701.4 668.5,696.9 668.7,692.7 668.9,688.7 669.2,684.6 669.4,680.6 669.6,676.5 669.8,672.5 669.9,668.5 670.0,664.0 669.9,658.9 669.8,653.8 669.8,649.4 669.9,646.2 670.2,645.0 670.6,645.5 671.0,646.9 671.6,648.9 672.1,651.3 672.6,653.9 673.0,656.3 673.4,659.7 673.7,663.5 673.9,667.6 674.0,671.8 674.1,676.2 674.2,680.6 674.4,686.3 674.5,692.4 674.6,698.8 674.6,705.1 674.7,711.2 674.8,716.9 674.9,721.2 675.0,725.3 675.1,729.2 675.2,733.1 675.3,737.0 675.4,741.1 675.5,745.6 675.6,750.2 675.7,754.9 675.7,759.6 675.9,764.3 676.0,769.0 676.2,773.9 676.3,778.8 676.5,783.7 676.8,788.6 677.0,793.4 677.4,798.1 677.8,802.1 678.2,806.1 678.7,809.9 679.2,813.7 679.8,817.6 680.4,821.4 681.0,825.3 681.6,829.3 682.2,833.2 682.9,837.1 683.7,841.0 684.7,844.7 685.8,848.3 687.1,851.8 688.5,855.3 690.0,858.7 691.7,861.9 693.4,865.0 695.1,867.7 696.9,870.2 698.8,872.6 700.8,875.0 702.9,877.3 705.1,879.6 707.7,882.1 710.6,884.6 713.5,887.0 716.6,889.4 719.6,891.7 722.5,894.1 725.2,896.3 727.8,898.5 730.5,900.7 733.1,902.9 735.8,905.0 738.5,907.2 741.4,909.4 744.3,911.6 747.2,913.8 750.2,916.1 753.1,918.3 756.0,920.5 758.9,922.7 761.7,925.0 764.5,927.3 767.4,929.5 770.2,931.8 773.0,934.0 775.7,936.1 778.3,938.3 780.9,940.5 783.6,942.6 786.3,944.5 789.1,946.3 791.9,947.7 794.9,949.0 798.0,950.1 801.0,951.1 803.8,952.3 806.5,953.6 808.6,954.9 810.6,956.3 812.5,957.8 814.3,959.3 816.2,960.8 818.2,962.3 820.5,964.0 822.9,965.7 825.4,967.4 827.8,969.1 830.3,970.9 832.7,972.5 834.9,974.0 837.2,975.6 839.4,977.1 841.6,978.6 843.8,980.0 845.8,981.2 847.4,982.2 849.0,983.3 850.5,984.3 852.0,985.1 853.3,985.6 854.5,985.5 855.5,984.7 856.4,983.4 857.1,981.6 857.7,979.5 858.2,977.4 858.8,975.4 859.4,972.8 859.8,969.7 860.2,966.6 860.6,963.6 861.1,961.0 861.8,959.0 862.2,958.2 862.7,957.5 863.2,956.8 863.7,956.3 864.2,956.0 864.7,956.0 865.5,957.1 866.2,959.5 866.9,962.6 867.6,965.7 868.3,968.1 869.0,969.0 869.7,968.1 870.4,965.8 871.1,962.8 871.8,959.8 872.6,957.5 873.4,956.5 874.1,956.8 874.9,957.6 875.7,958.9 876.5,960.4 877.2,962.1 877.8,963.7 878.5,966.3 879.0,969.5 879.4,972.8 879.7,976.3 880.1,979.6 880.7,982.6 881.3,984.8 881.8,986.9 882.4,988.9 883.1,990.8 884.0,992.6 885.0,994.3 886.2,995.8 887.5,997.1 888.9,998.4 890.5,999.5 892.1,1000.6 893.7,1001.5 895.4,1002.4 897.2,1003.1 899.0,1003.7 901.0,1004.2 903.1,1004.7 905.4,1005.2 909.3,1005.8 913.6,1006.2 918.3,1006.6 923.4,1006.8 928.7,1007.0 934.4,1007.3 944.3,1007.8 955.9,1008.4 968.2,1008.9 980.3,1009.3 991.2,1009.5 999.9,1009.5 1003.2,1009.4 1006.1,1009.2 1008.6,1008.9 1011.1,1008.7 1013.6,1008.4 1016.3,1008.1 1019.8,1007.8 1023.5,1007.5 1027.3,1007.2 1031.1,1006.8 1034.7,1006.4 1038.1,1005.9 1040.7,1005.4 1043.3,1004.9 1045.7,1004.4 1048.1,1003.8 1050.4,1003.1 1052.7,1002.3 1054.8,1001.4 1056.8,1000.4 1058.7,999.4 1060.6,998.2 1062.5,997.0 1064.3,995.7 1066.1,994.2 1067.9,992.6 1069.7,990.9 1071.4,989.2 1073.0,987.3 1074.5,985.5 1075.9,983.7 1077.2,981.9 1078.4,980.0 1079.6,978.0 1080.7,976.0 1081.8,973.9 1082.9,971.4 1084.0,968.8 1085.0,966.2 1085.9,963.4 1086.8,960.7 1087.6,957.9 1088.4,955.1 1089.2,952.2 1089.9,949.2 1090.6,946.3 1091.3,943.4 1091.9,940.5 1092.5,937.8 1093.0,935.2 1093.5,932.6 1093.9,929.9 1094.4,927.2 1094.8,924.5 1095.2,921.4 1095.6,918.3 1096.0,915.1 1096.4,911.9 1096.7,908.7 1097.0,905.6 1097.3,902.7 1097.6,899.8 1097.8,896.9 1098.1,894.1 1098.3,891.1 1098.5,888.1 1098.7,884.6 1098.9,881.0 1099.1,877.4 1099.2,873.7 1099.3,870.0 1099.5,866.3 1099.7,862.6 1099.8,858.8 1099.9,855.0 1100.1,851.3 1100.2,847.8 1100.4,844.5 1100.5,842.3 1100.7,840.4 1100.9,838.6 1101.0,836.7 1101.2,834.5 1101.3,831.9 1101.5,824.3 1101.6,814.6 1101.7,803.6 1101.8,792.1 1101.8,780.9 1102.0,770.8 1102.2,763.1 1102.4,755.6 1102.6,748.3 1102.9,741.2 1103.1,734.2 1103.4,727.2 1103.6,720.8 1103.9,714.4 1104.1,708.1 1104.4,702.0 1104.6,696.2 1104.9,690.9 1105.1,687.0 1105.3,682.7 1105.6,678.7 1105.8,675.3 1106.0,672.9 1106.3,672.0 1106.6,673.3 1107.0,676.6 1107.4,681.4 1107.8,687.0 1108.2,692.8 1108.5,698.1 1108.9,704.9 1109.3,712.2 1109.6,719.9 1109.9,727.6 1110.3,735.0 1110.7,741.8 1111.0,747.2 1111.4,753.0 1111.7,758.6 1112.1,763.4 1112.5,766.7 1113.0,768.0 1113.5,767.1 1114.1,764.7 1114.7,761.3 1115.3,757.2 1115.9,753.0 1116.5,749.0 1117.2,743.6 1117.9,737.8 1118.5,731.6 1119.1,725.2 1119.6,718.9 1120.2,712.7 1120.7,706.6 1121.3,700.6 1121.7,694.5 1122.2,688.4 1122.7,682.4 1123.1,676.3 1123.5,670.3 1123.8,664.3 1124.2,658.4 1124.5,652.4 1124.8,646.3 1125.2,640.0 1125.6,632.8 1126.1,625.5 1126.6,618.0 1127.0,610.4 1127.5,602.9 1128.0,595.4 1128.5,588.1 1129.0,580.8 1129.4,573.6 1129.9,566.3 1130.4,559.1 1130.9,551.8 1131.4,544.4 1131.8,536.9 1132.3,529.4 1132.8,522.0 1133.3,514.9 1133.8,508.1 1134.2,502.8 1134.6,497.5 1135.0,492.4 1135.5,487.6 1136.0,483.1 1136.7,479.1 1137.2,476.5 1137.8,473.7 1138.5,471.2 1139.1,469.0 1139.7,467.5 1140.3,467.0 1141.0,468.0 1141.6,470.6 1142.1,474.2 1142.7,478.4 1143.3,482.6 1144.0,486.3 1144.8,489.6 1145.7,492.9 1146.6,496.2 1147.5,499.6 1148.3,503.0 1149.0,506.7 1149.7,511.4 1150.3,516.4 1150.8,521.6 1151.2,526.8 1151.6,532.1 1152.0,537.2 1152.4,542.1 1152.8,546.9 1153.1,551.8 1153.5,556.6 1153.8,561.5 1154.1,566.3 1154.4,571.1 1154.6,576.0 1154.9,580.9 1155.1,585.7 1155.4,590.6 1155.6,595.4 1155.8,600.3 1156.1,605.3 1156.3,610.4 1156.6,615.3 1156.8,620.0 1157.0,624.4 1157.1,627.5 1157.3,630.3 1157.4,633.1 1157.6,635.8 1157.7,638.7 1157.8,641.9 1157.9,647.0 1158.0,652.5 1158.1,658.3 1158.3,664.3 1158.4,670.4 1158.7,676.3 1159.0,682.4 1159.4,688.5 1159.9,694.7 1160.4,700.8 1161.0,706.9 1161.6,712.7 1162.2,717.9 1162.8,723.2 1163.5,728.3 1164.2,733.3 1165.0,737.8 1165.9,741.8 1166.5,744.3 1167.2,746.8 1167.8,749.1 1168.6,751.1 1169.3,752.5 1170.0,753.0 1170.8,752.5 1171.6,751.2 1172.4,749.2 1173.3,746.8 1174.0,744.3 1174.7,741.8 1175.6,737.8 1176.3,733.3 1176.8,728.3 1177.3,723.2 1177.8,717.9 1178.3,712.7 1178.8,706.8 1179.3,700.6 1179.8,694.4 1180.2,688.1 1180.7,682.1 1181.2,676.3 1181.6,671.5 1182.0,666.6 1182.5,661.8 1182.9,657.4 1183.5,653.6 1184.1,650.5 1184.4,649.3 1184.8,648.1 1185.2,647.1 1185.6,646.2 1185.9,645.7 1186.3,645.5 1187.0,646.7 1187.6,649.9 1188.2,654.3 1188.8,659.3 1189.3,664.5 1189.9,669.1 1190.5,673.8 1191.2,678.5 1191.8,683.4 1192.4,688.3 1193.0,693.2 1193.6,698.1 1194.1,702.9 1194.6,707.8 1195.1,712.6 1195.6,717.5 1196.0,722.3 1196.5,727.2 1197.0,732.0 1197.5,736.9 1198.0,741.7 1198.5,746.6 1199.0,751.4 1199.4,756.3 1199.8,761.1 1200.2,766.0 1200.5,770.9 1200.9,775.7 1201.2,780.6 1201.6,785.4 1202.0,790.3 1202.3,795.3 1202.7,800.4 1203.0,805.3 1203.4,810.0 1203.7,814.4 1203.9,817.6 1204.2,820.5 1204.4,823.4 1204.6,826.2 1204.9,829.0 1205.2,831.9 1205.6,835.5 1206.1,839.6 1206.7,843.8 1207.2,847.4 1207.7,850.0 1208.2,851.0 1208.6,850.1 1209.0,847.6 1209.4,844.1 1209.7,840.0 1210.0,835.8 1210.3,831.9 1210.6,827.0 1210.8,821.8 1211.0,816.3 1211.2,810.8 1211.4,805.2 1211.7,799.9 1212.0,794.9 1212.4,789.9 1212.8,785.0 1213.2,780.1 1213.6,775.4 1213.9,770.8 1214.1,767.0 1214.3,763.2 1214.5,759.5 1214.7,755.9 1215.0,752.4 1215.4,749.0 1215.9,745.6 1216.5,741.9 1217.1,738.2 1217.8,735.1 1218.4,732.8 1219.0,732.0 1219.4,732.7 1219.7,734.5 1219.9,736.9 1220.3,739.7 1220.7,742.4 1221.2,744.7 1221.9,746.6 1222.6,748.7 1223.5,750.7 1224.4,752.4 1225.2,753.6 1226.0,754.0 1226.7,753.5 1227.4,752.4 1228.0,750.7 1228.7,748.7 1229.3,746.6 1229.9,744.7 1230.7,742.0 1231.3,738.9 1232.0,735.7 1232.7,732.5 1233.4,729.6 1234.3,727.2 1234.9,725.8 1235.5,724.5 1236.2,723.2 1236.9,722.2 1237.7,721.4 1238.6,721.0 1240.2,721.1 1242.1,721.9 1244.1,723.1 1246.2,724.7 1248.0,726.4 1249.5,728.2 1250.6,730.4 1251.4,733.0 1251.9,735.8 1252.2,738.7 1252.6,741.6 1253.1,744.5 1253.7,747.5 1254.3,750.5 1254.9,753.5 1255.4,756.6 1256.1,759.7 1256.8,762.7 1257.6,765.8 1258.5,768.8 1259.4,771.9 1260.3,775.0 1261.2,778.0 1262.2,780.9 1263.1,783.9 1263.9,787.2 1264.8,790.5 1265.7,793.4 1266.7,795.5 1267.7,796.3 1268.6,795.7 1269.5,794.1 1270.5,791.8 1271.5,789.3 1272.7,787.1 1274.0,785.4 1275.5,784.5 1277.2,784.0 1279.1,783.7 1280.9,783.3 1282.6,782.8 1284.0,781.8 1285.4,780.1 1286.4,777.9 1287.3,775.4 1288.1,772.8 1288.8,770.0 1289.5,767.2 1290.4,763.7 1291.2,760.0 1291.9,756.2 1292.6,752.3 1293.3,748.3 1294.0,744.5 1294.7,740.6 1295.4,736.6 1296.1,732.5 1296.8,728.6 1297.7,725.0 1298.6,721.8 1299.4,719.7 1300.2,717.4 1301.0,715.3 1301.9,713.6 1302.8,712.4 1303.6,712.0 1304.5,712.7 1305.4,714.6 1306.2,717.3 1307.0,720.4 1307.8,723.5 1308.6,726.3 1309.4,729.2 1310.2,732.2 1310.9,735.2 1311.6,738.3 1312.4,741.4 1313.1,744.5 1313.8,747.6 1314.6,750.7 1315.3,753.8 1316.1,756.9 1316.8,759.8 1317.6,762.7 1318.3,765.4 1318.9,768.3 1319.6,771.2 1320.3,773.7 1320.9,775.4 1321.5,776.0 1322.2,774.9 1322.8,771.9 1323.4,767.7 1323.9,762.9 1324.4,758.0 1324.9,753.6 1325.4,749.3 1325.9,744.9 1326.3,740.4 1326.8,735.8 1327.2,731.1 1327.6,726.3 1328.1,720.6 1328.6,714.7 1329.1,708.7 1329.6,702.6 1330.0,696.3 1330.4,690.0 1330.7,682.7 1330.8,675.1 1330.9,667.4 1331.0,659.7 1331.1,652.3 1331.4,645.4 1331.7,640.2 1332.0,635.1 1332.4,630.3 1332.7,625.5 1333.2,620.9 1333.6,616.3 1334.0,611.7 1334.4,606.6 1334.7,601.6 1335.2,597.3 1335.8,594.2 1336.5,593.0 1337.5,594.7 1338.7,599.2 1340.1,605.0 1341.4,610.8 1342.7,615.3 1343.8,617.0 1344.7,615.4 1345.5,611.4 1346.2,605.7 1346.8,599.3 1347.4,592.8 1348.1,587.2 1348.8,582.2 1349.5,577.2 1350.2,572.2 1350.9,567.3 1351.7,562.5 1352.5,558.1 1353.2,554.8 1354.0,551.8 1354.7,548.8 1355.5,545.9 1356.3,543.0 1357.0,540.0 1357.7,536.7 1358.4,533.5 1359.1,530.2 1359.7,526.8 1360.4,523.4 1361.0,520.0 1361.7,516.2 1362.3,512.4 1362.9,508.5 1363.6,504.6 1364.2,500.7 1365.0,497.0 1365.8,493.7 1366.5,490.4 1367.4,487.2 1368.2,484.1 1369.1,481.0 1370.0,478.0 1370.8,475.3 1371.6,472.6 1372.4,470.0 1373.2,467.5 1374.1,465.1 1375.0,463.0 1375.8,461.4 1376.6,459.7 1377.5,458.0 1378.3,456.7 1379.1,455.8 1379.8,455.5 1380.5,456.2 1381.1,457.8 1381.6,460.0 1382.1,462.7 1382.5,465.4 1383.0,468.0 1383.6,471.3 1384.1,474.8 1384.6,478.5 1385.1,482.3 1385.5,486.2 1386.0,490.0 1386.5,494.1 1387.0,498.1 1387.5,502.3 1387.9,506.5 1388.3,510.7 1388.7,515.0 1389.0,519.6 1389.3,524.2 1389.6,528.8 1389.8,533.5 1390.0,538.5 1390.3,543.6 1390.7,550.3 1391.0,557.5 1391.4,564.8 1391.8,572.3 1392.1,579.8 1392.5,587.2 1392.9,594.5 1393.2,601.7 1393.6,609.0 1393.9,616.3 1394.3,623.5 1394.7,630.8 1395.1,638.4 1395.6,646.4 1396.1,654.3 1396.6,661.9 1397.1,668.7 1397.6,674.4 1397.8,676.7 1398.1,678.6 1398.3,680.2 1398.5,681.9 1398.8,683.8 1399.0,686.0 1399.5,691.0 1399.9,696.8 1400.4,703.3 1400.9,710.1 1401.4,716.9 1401.9,723.6 1402.4,730.7 1402.9,737.9 1403.4,745.2 1403.9,752.5 1404.4,759.9 1404.8,767.2 1405.2,774.5 1405.6,781.7 1405.9,789.0 1406.3,796.3 1406.6,803.5 1407.0,810.8 1407.4,818.3 1407.7,826.1 1408.1,833.8 1408.5,841.3 1408.8,848.3 1409.2,854.4 1409.4,857.8 1409.7,860.8 1409.9,863.6 1410.2,866.3 1410.4,869.0 1410.7,871.9 1411.0,875.0 1411.2,878.0 1411.5,881.1 1411.8,884.2 1412.1,887.5 1412.4,890.9 1412.8,895.7 1413.3,900.9 1413.8,906.3 1414.3,911.7 1414.8,917.0 1415.4,921.8 1415.8,925.5 1416.1,929.2 1416.5,932.8 1416.9,936.1 1417.6,939.2 1418.5,941.9 1419.4,943.5 1420.5,945.0 1421.6,946.2 1422.8,947.5 1424.0,948.7 1425.0,950.0 1425.9,951.3 1426.9,952.6 1427.8,954.0 1428.6,955.3 1429.3,956.7 1430.0,958.2 1430.5,960.0 1430.7,962.0 1430.8,964.0 1431.0,965.9 1431.4,967.5 1432.2,968.5 1433.3,968.8 1434.7,968.5 1436.3,968.0 1437.9,967.5 1439.3,967.2 1440.4,967.5 1441.2,968.5 1441.7,970.1 1441.9,971.9 1442.1,974.0 1442.2,976.0 1442.5,977.8 1442.8,979.4 1443.1,981.0 1443.3,982.6 1443.6,984.1 1444.0,985.6 1444.6,987.0 1445.2,988.2 1446.0,989.4 1446.8,990.4 1447.7,991.5 1448.7,992.4 1449.7,993.2 1450.8,993.8 1452.1,994.2 1453.4,994.6 1454.7,994.9 1455.9,995.3 1457.0,996.0 1457.9,996.9 1458.8,998.1 1459.5,999.4 1460.2,1000.7 1460.9,1001.9 1461.5,1003.0 1462.0,1003.8 1462.4,1004.7 1462.8,1005.6 1463.2,1006.3 1463.6,1006.8 1464.0,1007.0 1464.5,1006.7 1464.9,1006.1 1465.4,1005.1 1465.9,1004.0 1466.4,1002.9 1467.0,1002.0 1467.6,1001.2 1468.3,1000.3 1469.0,999.5 1469.8,998.7 1470.6,998.0 1471.5,997.3 1472.5,996.7 1473.7,996.2 1474.9,995.8 1476.1,995.4 1477.3,994.8 1478.5,994.2 1479.9,993.2 1481.3,991.9 1482.7,990.5 1484.1,989.2 1485.4,987.9 1486.7,987.0 1487.6,986.5 1488.5,986.1 1489.3,985.7 1490.2,985.4 1491.0,985.2 1491.9,985.0 1492.8,985.0 1493.7,985.1 1494.5,985.2 1495.4,985.3 1496.2,985.3 1497.0,985.0 1497.9,984.2 1498.7,983.0 1499.4,981.6 1500.1,980.0 1500.7,978.4 1501.2,976.7 1501.7,974.6 1502.1,972.3 1502.4,969.9 1502.7,967.5 1502.9,964.9 1503.2,962.3 1503.6,959.0 1503.9,955.5 1504.2,951.9 1504.6,948.3 1504.9,944.9 1505.3,941.7 1505.6,939.5 1505.8,937.4 1506.1,935.4 1506.4,933.4 1506.8,931.4 1507.3,929.4 1507.9,926.9 1508.7,924.1 1509.5,921.3 1510.4,918.8 1511.4,916.9 1512.5,916.0 1513.4,916.1 1514.4,916.9 1515.5,918.0 1516.6,919.1 1517.7,919.9 1518.6,920.1 1519.6,919.5 1520.6,918.3 1521.5,916.7 1522.3,914.8 1523.1,912.8 1523.8,910.9 1524.4,908.5 1524.8,905.7 1525.1,902.8 1525.4,900.0 1526.0,897.5 1526.9,895.4 1527.9,894.3 1529.0,893.4 1530.3,892.7 1531.6,892.0 1532.9,891.3 1534.1,890.3 1535.6,888.8 1537.2,887.1 1538.7,885.3 1540.2,883.4 1541.5,881.5 1542.7,879.7 1543.4,878.1 1543.9,876.5 1544.4,874.9 1544.8,873.3 1545.4,871.9 1546.3,870.7 1547.5,869.8 1549.1,869.3 1550.8,868.9 1552.5,868.5 1554.1,867.9 1555.4,867.0 1556.6,865.5 1557.6,863.7 1558.5,861.7 1559.3,859.6 1560.0,857.7 1560.8,856.1 1561.3,855.1 1561.7,854.1 1562.1,853.1 1562.6,852.3 1563.0,851.7 1563.5,851.5 1564.1,851.9 1564.8,852.9 1565.5,854.3 1566.3,855.8 1567.1,857.1 1568.1,858.0 1569.1,858.4 1570.3,858.5 1571.5,858.5 1572.8,858.4 1574.1,858.2 1575.3,858.0 1576.6,857.6 1577.9,856.9 1579.2,856.2 1580.5,855.5 1581.7,855.1 1582.6,855.2 1583.3,855.7 1583.8,856.6 1584.2,857.6 1584.5,858.9 1584.9,860.2 1585.3,861.6 1586.0,864.1 1586.8,866.9 1587.5,870.1 1588.3,873.3 1589.1,876.6 1589.9,879.7 1590.7,882.8 1591.6,885.8 1592.5,888.9 1593.4,891.9 1594.4,894.9 1595.3,897.9 1596.3,901.0 1597.6,904.5 1598.8,908.0 1599.9,911.1 1600.7,913.2 1601.0,914.0"/>
</g>
<g fill="#000" stroke="none" shape-rendering="crispEdges">
<rect x="221" y="184" width="6" height="847"/>
<rect x="221" y="1008" width="1373" height="6"/>
<path d="M416 1011H422V1031H416ZM612 1011H618V1031H612ZM808 1011H814V1031H808ZM1003 1011H1009V1031H1003ZM1199 1011H1205V1031H1199ZM1395 1011H1401V1031H1395ZM1591 1011H1597V1031H1591Z"/>
</g>
<g fill="none" stroke="#000" stroke-width="6" stroke-linecap="round" shape-rendering="crispEdges">
<path stroke-dasharray="15.5 20.3" d="M250 52H408"/>
<path d="M981.5 52H1151"/>
</g>
<g filter="url(#b)">
<text y="70.10" font-size="55.00"><tspan x="441.96" textLength="142.75" lengthAdjust="spacingAndGlyphs">water</tspan> <tspan x="600.08" textLength="110.42" lengthAdjust="spacingAndGlyphs">kefir</tspan> <tspan x="725.32" textLength="147.71" lengthAdjust="spacingAndGlyphs">grains</tspan></text>
<text y="70.10" font-size="55.00"><tspan x="1171.86" textLength="103.40" lengthAdjust="spacingAndGlyphs">milk</tspan> <tspan x="1289.75" textLength="111.26" lengthAdjust="spacingAndGlyphs">kefir</tspan> <tspan x="1414.71" textLength="148.64" lengthAdjust="spacingAndGlyphs">grains</tspan></text>
<text y="1108.2" font-size="56.5"><tspan x="153.90">4</tspan> <tspan x="199.70">000</tspan></text>
<text y="1108.2" font-size="56.5"><tspan x="349.61">3</tspan> <tspan x="395.41">500</tspan></text>
<text y="1108.2" font-size="56.5"><tspan x="545.33">3</tspan> <tspan x="591.13">000</tspan></text>
<text y="1108.2" font-size="56.5"><tspan x="741.04">2</tspan> <tspan x="786.84">500</tspan></text>
<text y="1108.2" font-size="56.5"><tspan x="936.76">2</tspan> <tspan x="982.56">000</tspan></text>
<text y="1108.2" font-size="56.5"><tspan x="1132.47">1</tspan> <tspan x="1178.27">500</tspan></text>
<text y="1108.2" font-size="56.5"><tspan x="1328.19">1</tspan> <tspan x="1373.99">000</tspan></text>
<text y="1108.2" font-size="56.5" x="1547.50">500</text>
<text y="1209.20" font-size="61.50"><tspan x="728.76" textLength="361.12" lengthAdjust="spacingAndGlyphs">wavenumber</tspan></text>
<text y="1291.80" font-size="61.50"><tspan x="825.18" textLength="15.71" lengthAdjust="spacingAndGlyphs" dy="-1.4">(</tspan><tspan x="844.32" textLength="81.83" lengthAdjust="spacingAndGlyphs" dy="1.4">cm</tspan><tspan x="927.07" textLength="44.97" lengthAdjust="spacingAndGlyphs" dy="-19.9" font-size="41.50">−1</tspan><tspan x="975.92" textLength="15.46" lengthAdjust="spacingAndGlyphs" dy="18.5">)</tspan></text>
<text y="66.80" font-size="61.50" transform="rotate(-90)"><tspan x="-757.46" textLength="318.14" lengthAdjust="spacingAndGlyphs">absorbance</tspan></text>
<text y="149.90" font-size="61.50" transform="rotate(-90)"><tspan x="-668.45" textLength="15.33" lengthAdjust="spacingAndGlyphs" dy="-1.9">(</tspan><tspan x="-649.79" textLength="102.79" lengthAdjust="spacingAndGlyphs" dy="1.9">a.u.</tspan><tspan x="-543.37" textLength="15.08" lengthAdjust="spacingAndGlyphs" dy="-1.9">)</tspan></text>
</g>
</svg>
</body></html>
